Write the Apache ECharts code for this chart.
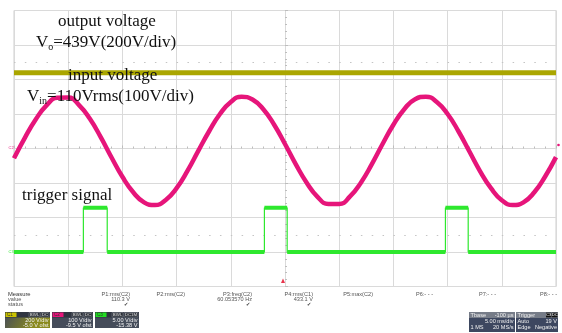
<!DOCTYPE html>
<html>
<head>
<meta charset="utf-8">
<script src="https://cdn.jsdelivr.net/npm/echarts@6/dist/echarts.min.js"></script>
<style>
  html, body { margin: 0; padding: 0; background: #ffffff; }
  #scope { width: 562px; height: 333px; }
</style>
</head>
<body>
<div id="scope"></div>
<script>
// Time base: 5 ms/div, 10 divisions, trigger at the centre.
const timeTicksMs = [-25, -20, -15, -10, -5, 0, 5, 10, 15, 20, 25];

// C2: input voltage sampled every 1 ms (V).
const inputTimeMs = [-25, -24, -23, -22, -21, -20, -19, -18, -17, -16, -15, -14, -13, -12, -11, -10, -9,
  -8, -7, -6, -5, -4, -3, -2, -1, 0, 1, 2, 3, 4, 5, 6, 7, 8, 9, 10, 11, 12, 13, 14, 15, 16, 17, 18, 19,
  20, 21, 22, 23, 24, 25];
const inputV = [-28, 31, 84, 125, 147, 148, 126, 86, 33, -26, -82, -127, -156, -164, -149, -115, -65,
  -7, 50, 100, 135, 150, 142, 114, 69, 13, -46, -99, -140, -161, -161, -139, -99, -46, 13, 69, 114,
  143, 150, 135, 100, 50, -8, -66, -115, -150, -164, -156, -127, -81, -25];

// C1: output voltage (V).
const outputTimeMs = [-25, -20, -15, -10, -5, 0, 5, 10, 15, 20, 25];
const outputV = [439, 439, 439, 439, 439, 439, 439, 439, 439, 439, 439];

// C3: trigger signal, rising/falling edge times (ms) and its two levels (V).
const triggerEdgesMs = [[-18.6, -16.4], [-1.9, 0.2], [14.8, 16.9]];
const triggerLowV = 0;
const triggerHighV = 6.4;

// Channel settings: volts per division and zero position in divisions from centre.
const channels = {
  C1: { vPerDiv: 200, zeroDiv: 0 },
  C2: { vPerDiv: 100, zeroDiv: 0 },
  C3: { vPerDiv: 5, zeroDiv: -3 }
};

function channelAxis(ch) {
  const c = channels[ch];
  return {
    type: 'value', show: false,
    min: (-4 - c.zeroDiv) * c.vPerDiv,
    max: (4 - c.zeroDiv) * c.vPerDiv,
    splitLine: { show: false }
  };
}

function zip(xs, ys) { return xs.map((x, i) => [x, ys[i]]); }

// Trigger outline (thin) and its flat levels (thick).
const triggerPath = [[-25, triggerLowV]];
const triggerLevels = [[-25, triggerLowV]];
triggerEdgesMs.forEach(([rise, fall]) => {
  triggerPath.push([rise, triggerLowV], [rise, triggerHighV], [fall, triggerHighV], [fall, triggerLowV]);
  triggerLevels.push([rise, triggerLowV], [rise, '-'], [rise, triggerHighV], [fall, triggerHighV],
    [fall, '-'], [fall, triggerLowV]);
});
triggerPath.push([25, triggerLowV]);
triggerLevels.push([25, triggerLowV]);

const COL_C1 = '#aaa600';
const COL_C2 = '#e6157a';
const COL_C3 = '#2ee82e';
const GRID_COL = '#dadada';

const serif = '"Liberation Serif", "Times New Roman", serif';
const sans = '"Liberation Sans", Arial, sans-serif';

function label(x, y, text, extra) {
  return {
    type: 'text', x: x, y: y, z: 50, silent: true,
    style: Object.assign({
      text: text, font: '17px ' + serif, fill: '#111',
      textAlign: 'left', textVerticalAlign: 'middle', align: 'left', verticalAlign: 'middle'
    }, extra || {})
  };
}

function small(x, y, text, align, fill, size) {
  return {
    type: 'text', x: x, y: y, z: 50, silent: true,
    style: {
      text: text, font: (size || 5.6) + 'px ' + sans, fill: fill || '#555',
      textAlign: align || 'left', align: align || 'left',
      textVerticalAlign: 'middle', verticalAlign: 'middle'
    }
  };
}

function box(x, y, w, h, fill, extra) {
  return Object.assign({ type: 'rect', z: 40, silent: true, shape: { x: x, y: y, width: w, height: h },
    style: { fill: fill } }, extra || {});
}

function richLabel(x, y, main1, sub, main2, subShift) {
  return {
    type: 'text', x: x, y: y, z: 50, silent: true,
    style: {
      text: '{m|' + main1 + '}{s|' + sub + '}{m|' + main2 + '}',
      textAlign: 'left', align: 'left', textVerticalAlign: 'middle', verticalAlign: 'middle',
      rich: {
        m: { font: '17px ' + serif, fill: '#111', lineHeight: 19, verticalAlign: 'middle' },
        s: { font: '10px ' + serif, fill: '#111', lineHeight: subShift, verticalAlign: 'bottom' }
      }
    }
  };
}

// Channel info tiles along the bottom.
function channelTile(x, w, name, color, tags, scaleText, offsetText, glow) {
  const els = [];
  const body = box(x, 312, w, 16, '#454c5a');
  if (glow) {
    body.style.fill = new echarts.graphic.LinearGradient(0, 0, 0.6, 1, [
      { offset: 0, color: '#454c5a' }, { offset: 1, color: glow }
    ]);
  }
  els.push(body);
  els.push(box(x, 312, w, 5.5, '#2f3440'));
  els.push(box(x + 0.5, 312.5, 11, 4.5, color));
  els.push(small(x + 2, 314.8, name, 'left', '#333', 4.6));
  let tx = x + w - 1;
  tags.slice().reverse().forEach(t => {
    const tw = t.length * 3 + 2;
    els.push(box(tx - tw, 312.5, tw, 4.5, '#2a2e36', { style: { fill: '#2a2e36', stroke: '#9aa0aa', lineWidth: 0.4 } }));
    els.push(small(tx - tw / 2, 314.8, t, 'center', '#e0e0e0', 4.4));
    tx -= tw + 1;
  });
  els.push(small(x + w - 1.5, 320.3, scaleText, 'right', '#f2f2f2', 5.6));
  els.push(small(x + w - 1.5, 325.6, offsetText, 'right', '#f2f2f2', 5.6));
  return els;
}

const graphics = [
  label(58, 22, 'output voltage'),
  richLabel(36, 43, 'V', 'o', '=439V(200V/div)', 12),
  label(68, 76, 'input voltage'),
  richLabel(27, 97, 'V', 'in', '=110Vrms(100V/div)', 10),
  label(22, 196, 'trigger signal'),

  // ground markers and trigger position
  small(8.5, 148, 'C2', 'left', COL_C2, 4),
  small(8.5, 251.5, 'C3', 'left', COL_C3, 4),
  { type: 'circle', z: 45, silent: true, shape: { cx: 558.5, cy: 145, r: 1.3 }, style: { fill: COL_C2 } },
  { type: 'polygon', z: 45, silent: true, shape: { points: [[281, 283], [285, 283], [283, 278.5]] },
    style: { fill: '#e8354d' } },

  // measurement table
  small(8, 294, 'Measure', 'left', '#333', 5.8),
  small(8, 299.6, 'value', 'left', '#555', 5.6),
  small(8, 304.8, 'status', 'left', '#555', 5.6),
  small(130, 294, 'P1:rms(C2)', 'right'),
  small(130, 299.6, '110.3 V', 'right'),
  small(128, 305, '\u2714', 'right', '#444', 5),
  small(185, 294, 'P2:rms(C2)', 'right'),
  small(252, 294, 'P3:freq(C2)', 'right'),
  small(252, 299.6, '60.053570 Hz', 'right'),
  small(250, 305, '\u2714', 'right', '#444', 5),
  small(313, 294, 'P4:rms(C1)', 'right'),
  small(313, 299.6, '433.1 V', 'right'),
  small(311, 305, '\u2714', 'right', '#444', 5),
  small(373, 294, 'P5:max(C2)', 'right'),
  small(433, 294, 'P6:- - -', 'right'),
  small(496, 294, 'P7:- - -', 'right'),
  small(557, 294, 'P8:- - -', 'right')
]
  .concat(channelTile(5, 45, 'C1', '#c9c200', ['BWL', 'DC'], '200 V/div', '-5.0 V ofst', '#8a8a1e'))
  .concat(channelTile(52, 41, 'C2', '#e6157a', ['BWL', 'DC'], '100 V/div', '-9.5 V ofst'))
  .concat(channelTile(95, 44, 'C3', '#22dd22', ['BWL', 'DC1M'], '5.00 V/div', '-15.38 V'))
  .concat([
    // timebase tile
    box(469, 312, 46, 20, '#3d4760'),
    box(469, 312, 46, 6, '#767c88'),
    small(470.5, 315, 'Tbase', 'left', '#f0f0f0'),
    small(513.5, 315, '-100 \u00b5s', 'right', '#f0f0f0'),
    small(513.5, 321, '5.00 ms/div', 'right', '#f0f0f0'),
    small(470.5, 327.5, '1 MS', 'left', '#f0f0f0'),
    small(513.5, 327.5, '20 MS/s', 'right', '#f0f0f0'),
    // trigger tile
    box(516, 312, 42, 20, '#3d4760'),
    box(516, 312, 42, 6, '#767c88'),
    small(517.5, 315, 'Trigger', 'left', '#f0f0f0'),
    box(546, 312.6, 5.5, 4.8, '#111111'),
    box(552, 312.6, 5.5, 4.8, '#111111'),
    small(548.75, 315, 'C3', 'center', '#ffffff', 4.2),
    small(554.75, 315, 'DC', 'center', '#ffffff', 4.2),
    small(517.5, 321, 'Auto', 'left', '#f0f0f0'),
    small(557, 321, '19 V', 'right', '#f0f0f0'),
    small(517.5, 327.5, 'Edge', 'left', '#f0f0f0'),
    small(557, 327.5, 'Negative', 'right', '#f0f0f0')
  ]);

const divAxisTickStyle = { color: '#bdbdbd', width: 1 };

const option = {
  animation: false,
  backgroundColor: '#ffffff',
  grid: {
    left: 14, right: 6, top: 10.5, bottom: 46.5,
    show: true, borderColor: '#cfcfcf', borderWidth: 1, backgroundColor: 'transparent'
  },
  xAxis: {
    type: 'value', min: timeTicksMs[0], max: timeTicksMs[timeTicksMs.length - 1], interval: 5,
    axisLabel: { show: false },
    axisLine: { show: true, onZero: true, onZeroAxisIndex: 0, lineStyle: { color: GRID_COL } },
    axisTick: { show: true, inside: true, length: 3, lineStyle: divAxisTickStyle },
    minorTick: { show: true, splitNumber: 5, length: 2, lineStyle: divAxisTickStyle },
    splitLine: { show: true, lineStyle: { color: GRID_COL, width: 1 } }
  },
  yAxis: [
    {
      // screen divisions
      type: 'value', min: -4, max: 4, interval: 1,
      axisLabel: { show: false },
      axisLine: { show: true, onZero: true, lineStyle: { color: GRID_COL } },
      axisTick: { show: true, inside: true, length: 3, lineStyle: divAxisTickStyle },
      minorTick: { show: true, splitNumber: 5, length: 2, lineStyle: divAxisTickStyle },
      splitLine: { show: true, lineStyle: { color: GRID_COL, width: 1 } }
    },
    channelAxis('C1'),
    channelAxis('C2'),
    channelAxis('C3')
  ],
  series: [
    {
      name: 'guides', type: 'line', yAxisIndex: 0, data: [], silent: true,
      markLine: {
        silent: true, symbol: 'none', label: { show: false },
        lineStyle: { color: '#c4c4c4', width: 1, type: [1.5, 9.34] },
        data: [{ yAxis: 2.5 }, { yAxis: -2.5 }]
      }
    },
    {
      name: 'output voltage', type: 'line', yAxisIndex: 1, data: zip(outputTimeMs, outputV),
      showSymbol: false, lineStyle: { color: COL_C1, width: 5 }, z: 5
    },
    {
      name: 'input voltage', type: 'line', yAxisIndex: 2, data: zip(inputTimeMs, inputV),
      smooth: 0.5, showSymbol: false, lineStyle: { color: COL_C2, width: 4.5 }, z: 5
    },
    {
      name: 'trigger edges', type: 'line', yAxisIndex: 3, data: triggerPath,
      showSymbol: false, lineStyle: { color: COL_C3, width: 1.2 }, z: 5
    },
    {
      name: 'trigger signal', type: 'line', yAxisIndex: 3, data: triggerLevels, connectNulls: false,
      showSymbol: false, lineStyle: { color: COL_C3, width: 4 }, z: 5
    }
  ],
  graphic: graphics
};

const chart = echarts.init(document.getElementById('scope'), null, { renderer: 'canvas' });
chart.setOption(option);
</script>
</body>
</html>
